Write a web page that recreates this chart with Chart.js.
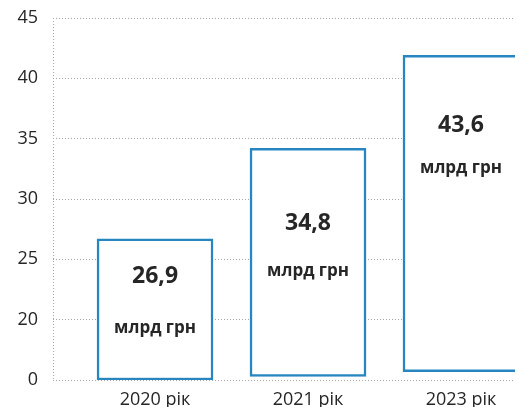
<!DOCTYPE html>
<html>
<head>
<meta charset="utf-8">
<script src="https://cdn.jsdelivr.net/npm/chart.js@4"></script>
<style>
  html, body { margin: 0; padding: 0; background: #fff; }
  #wrap { width: 515px; height: 407px; }
</style>
</head>
<body>
<div id="wrap"><canvas id="c" width="515" height="407"></canvas></div>
<script>
// ---- data ----
const categories = ['2020 рік', '2021 рік', '2023 рік'];
const barBottoms = [15, 15.3, 15.7];
const barTops = [26.7, 34.2, 41.9];
const valueLabels = ['26,9', '34,8', '43,6'];
const unitLabel = 'млрд грн';
const yTickValues = [15, 20, 25, 30, 35, 40, 45];
const yTickLabels = ['0', '20', '25', '30', '35', '40', '45'];

const GRID = '#a6a6a6';
const BLUE = '#2786c0';
const TEXT = '#262626';

const barData = categories.map((c, i) => ({ x: i, y: [barBottoms[i], barTops[i]] }));

const innerLabels = {
  id: 'innerLabels',
  afterDatasetsDraw(chart, args, opts) {
    const ctx = chart.ctx;
    const meta = chart.getDatasetMeta(0);
    ctx.save();
    ctx.fillStyle = TEXT;
    ctx.textAlign = 'center';
    ctx.textBaseline = 'middle';
    meta.data.forEach((bar, i) => {
      const top = Math.min(bar.y, bar.base);
      ctx.font = 'bold 23px "Open Sans"';
      ctx.fillText(valueLabels[i], bar.x, top + opts.numberOffset[i]);
      ctx.font = 'bold 17px "Open Sans"';
      ctx.fillText(unitLabel, bar.x, top + opts.unitOffset[i]);
    });
    ctx.restore();
  }
};

const leftDotted = {
  id: 'leftDotted',
  beforeDatasetsDraw(chart) {
    const { ctx, chartArea } = chart;
    ctx.save();
    ctx.strokeStyle = GRID;
    ctx.lineWidth = 1;
    ctx.setLineDash([1, 2]);
    ctx.beginPath();
    ctx.moveTo(chartArea.left + 0.5, chartArea.top);
    ctx.lineTo(chartArea.left + 0.5, chartArea.bottom);
    ctx.stroke();
    ctx.restore();
  }
};

new Chart(document.getElementById('c'), {
  type: 'bar',
  data: {
    datasets: [{
      data: barData,
      backgroundColor: '#ffffff',
      borderColor: BLUE,
      borderWidth: 2.5,
      borderSkipped: false,
      barThickness: 116
    }]
  },
  plugins: [leftDotted, innerLabels],
  options: {
    responsive: false,
    animation: false,
    devicePixelRatio: 1,
    layout: { padding: { top: 18, right: 0, left: 0, bottom: 0 } },
    plugins: {
      legend: { display: false },
      tooltip: { enabled: false },
      innerLabels: { numberOffset: [38, 75, 70], unitOffset: [89, 123, 113] }
    },
    scales: {
      x: {
        type: 'linear',
        offset: false,
        bounds: 'data',
        min: -0.667,
        max: 2.353,
        grid: { display: false, drawTicks: false, offset: false },
        border: { display: false },
        afterBuildTicks: (s) => { s.ticks = categories.map((c, i) => ({ value: i })); },
        afterFit: (s) => { s.height = 27; },
        ticks: {
          autoSkip: false,
          maxRotation: 0,
          padding: 9,
          color: TEXT,
          font: { family: 'Open Sans', size: 18 },
          callback: (v, i) => categories[i]
        }
      },
      y: {
        min: 15,
        max: 45,
        afterBuildTicks: (s) => { s.ticks = yTickValues.map(v => ({ value: v })); },
        afterFit: (s) => { s.width = 53; },
        grid: { color: GRID, lineWidth: 1, drawTicks: true, tickLength: 14, tickColor: 'rgba(0,0,0,0)' },
        border: { display: false, dash: [1, 2] },
        ticks: {
          padding: 1,
          color: TEXT,
          font: { family: 'Open Sans', size: 18 },
          callback: (v, i) => yTickLabels[i]
        }
      }
    }
  }
});
</script>
</body>
</html>
